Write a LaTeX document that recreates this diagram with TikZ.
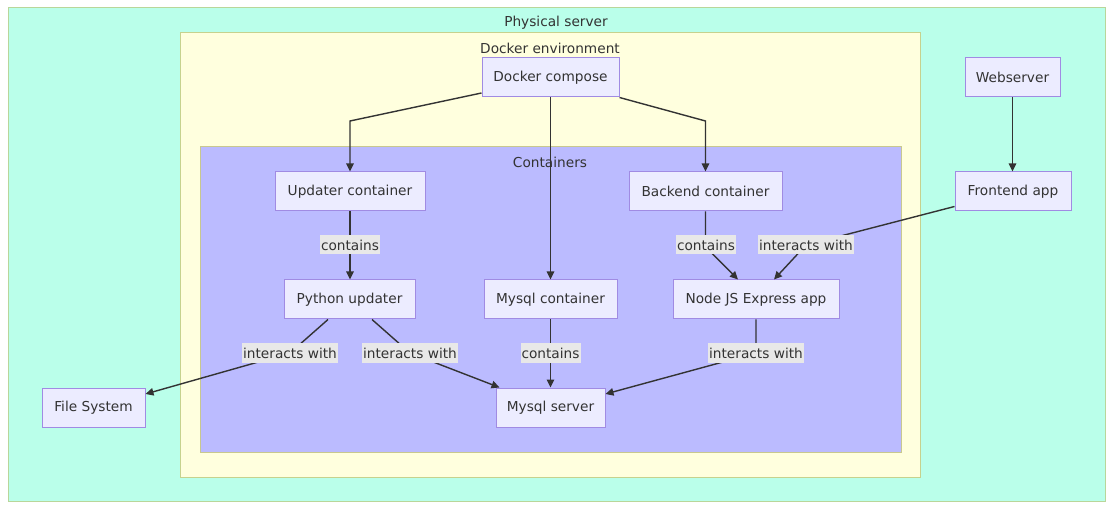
\documentclass[tikz,border=0pt]{standalone}
\usepackage{fontspec}
\setmainfont{DejaVu Sans}
\usetikzlibrary{arrows.meta,calc}
\definecolor{txt}{HTML}{333333}
\definecolor{physfill}{HTML}{BAFFEA}
\definecolor{physline}{HTML}{B9D69A}
\definecolor{dockfill}{HTML}{FFFFDE}
\definecolor{dockline}{HTML}{C6D28E}
\definecolor{contfill}{HTML}{BBBBFF}
\definecolor{contline}{HTML}{C8C88F}
\definecolor{boxfill}{HTML}{ECECFF}
\definecolor{boxline}{HTML}{A08BE3}
\definecolor{labfill}{HTML}{E8E8E8}
\begin{document}
\begin{tikzpicture}[x=1pt,y=-1pt,
  every node/.style={font=\fontsize{13.7}{16}\selectfont, text=txt},
  box/.style={draw=boxline, fill=boxfill, line width=1pt, minimum height=39pt, inner sep=0pt},
  elab/.style={fill=labfill, inner xsep=1pt, inner ysep=0pt, minimum height=19pt},
  arr/.style={draw=txt, line width=1.4pt, -{Triangle[length=8pt,width=7.5pt]}},
  ttl/.style={inner sep=0pt}]
\useasboundingbox (0,0) rectangle (1113,510);
\fill[white] (0,0) rectangle (1113,510);
% clusters
\draw[physline, fill=physfill, line width=1pt] (8,8) rectangle (1105,501);
\node[ttl] (tphys) at (556,23) {Physical server};
\draw[dockline, fill=dockfill, line width=1pt] (180,33) rectangle (920,477);
\node[ttl] (tdock) at (550,48) {Docker environment};
\draw[contline, fill=contfill, line width=1pt] (200,147) rectangle (901,452);
\node[ttl] (tcont) at (550,162) {Containers};
% nodes
\node[box, minimum width=137pt] (dc) at (550.5,77.5) {Docker compose};
\node[box, minimum width=150pt] (uc) at (350,191.5) {Updater container};
\node[box, minimum width=153pt] (bc) at (705.5,191.5) {Backend container};
\node[box, minimum width=131pt] (pu) at (349.5,299.5) {Python updater};
\node[box, minimum width=133pt] (mc) at (550.5,299.5) {Mysql container};
\node[box, minimum width=166pt] (nj) at (756,299.5) {Node JS Express app};
\node[box, minimum width=109pt] (ms) at (550.5,407.5) {Mysql server};
\node[box, minimum width=103pt] (fs) at (93.5,407.5) {File System};
\node[box, minimum width=95pt] (ws) at (1012.5,77.5) {Webserver};
\node[box, minimum width=116pt] (fa) at (1013,191.5) {Frontend app};
% edges
\draw[arr] ($(dc.west)+(0,15.5)$) -- (350,121) -- (uc.north);
\draw[arr] (dc.south east) -- (705.5,121) -- (bc.north);
\draw[arr] (dc.south) -- (mc.north);
\draw[arr] (ws.south) -- (ws.south |- fa.north);
\draw[arr] (uc.south) -- (uc.south |- pu.north);
\node[elab] (l1) at (350,245) {contains};
\draw[arr] (bc.south) -- (705.5,247) -- ($(nj.north)+(-18,0)$);
\node[elab] (l2) at (706,245) {contains};
\draw[arr] ($(fa.west)+(0,15)$) -- (806,245) -- ($(nj.north)+(18,0)$);
\node[elab] (l3) at (806,245) {interacts with};
\draw[arr] ($(pu.south)+(-21.5,0)$) -- (290,353) -- ($(fs.east)+(0,-13.5)$);
\node[elab] (l4) at (290,353) {interacts with};
\draw[arr] ($(pu.south)+(22.5,0)$) -- (410,353) -- ($(ms.north west)+(4,0)$);
\node[elab] (l5) at (410,353) {interacts with};
\draw[arr] (mc.south) -- (ms.north);
\node[elab] (l6) at (550.5,353) {contains};
\draw[arr] (nj.south) -- (756,353) -- ($(ms.east)+(0,-13.5)$);
\node[elab] (l7) at (756,353) {interacts with};
\end{tikzpicture}
\end{document}
